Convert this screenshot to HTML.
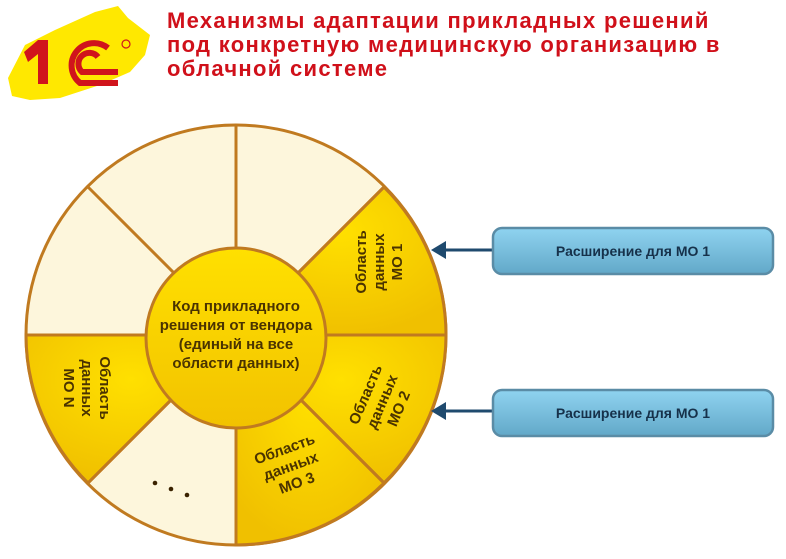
<!DOCTYPE html>
<html><head><meta charset="utf-8"><style>
html,body{margin:0;padding:0;background:#fff;width:786px;height:559px;overflow:hidden}
.t{position:absolute;left:167px;top:9px;font:bold 22px/24px "Liberation Sans",sans-serif;color:#d0101a;letter-spacing:1.3px}
</style></head><body>
<svg width="786" height="559" style="position:absolute;left:0;top:0" font-family="Liberation Sans, sans-serif">
<defs>
<radialGradient id="y" cx="50%" cy="30%" r="70%"><stop offset="0" stop-color="#ffe000"/><stop offset="1" stop-color="#f0c000"/></radialGradient>
<linearGradient id="b" x1="0" y1="0" x2="0" y2="1"><stop offset="0" stop-color="#8fd3f0"/><stop offset="1" stop-color="#62a8c8"/></linearGradient>
<linearGradient id="c" x1="0" y1="0" x2="0" y2="1"><stop offset="0" stop-color="#ffe000"/><stop offset="1" stop-color="#f2c200"/></linearGradient>
</defs>
<!-- logo -->
<path d="M8 78 L25 45 L55 30 L95 12 L118 6 L128 18 L150 35 L145 55 L130 72 L100 85 L60 98 L30 100 L12 96 Z" fill="#ffe800"/>
<g fill="#d0141c">
<path d="M24 52 L38 40 L48 40 L48 84 L38 84 L38 54 L28 62 Z"/>
</g>
<g fill="none" stroke="#d0141c" stroke-width="6">
<path d="M118 83 L80 83 A22 22 0 1 1 108 48"/>
<path d="M118 72 L82 72 A11 11 0 1 1 98 57"/>
</g>
<circle cx="126" cy="44" r="4" fill="none" stroke="#d0141c" stroke-width="1.2"/>
<!-- wheel -->
<g stroke="#c07a20" stroke-width="3">
<circle cx="236" cy="335" r="210" fill="#fdf6dc"/>
<path d="M236 335 L384 187 A210 210 0 0 1 446 335 Z" fill="url(#y)"/>
<path d="M236 335 L446 335 A210 210 0 0 1 384 483 Z" fill="url(#y)"/>
<path d="M236 335 L384 483 A210 210 0 0 1 236 545 Z" fill="url(#y)"/>
<path d="M236 335 L26 335 A210 210 0 0 0 88 483 Z" fill="url(#y)"/>
<line x1="236" y1="125" x2="236" y2="545"/>
<line x1="26" y1="335" x2="446" y2="335"/>
<line x1="88" y1="187" x2="384" y2="483"/>
<line x1="384" y1="187" x2="88" y2="483"/>
<circle cx="236" cy="338" r="90" fill="url(#c)"/>
</g>
<g font-weight="bold" font-size="15" fill="#4a3300" text-anchor="middle">
<text x="236" y="311">Код прикладного</text>
<text x="236" y="330">решения от вендора</text>
<text x="236" y="349">(единый на все</text>
<text x="236" y="368">области данных)</text>
<g transform="translate(380,262) rotate(-90)"><text y="-14">Область</text><text y="4">данных</text><text y="22">МО 1</text></g>
<g transform="translate(383,402) rotate(-67)"><text y="-14">Область</text><text y="4">данных</text><text y="22">МО 2</text></g>
<g transform="translate(291,467) rotate(-20)"><text y="-14">Область</text><text y="4">данных</text><text y="22">МО 3</text></g>
<g transform="translate(86,388) rotate(90)"><text y="-14">Область</text><text y="4">данных</text><text y="22">МО N</text></g>
</g>
<g fill="#3a2200"><circle cx="155" cy="483" r="2.3"/><circle cx="171" cy="489" r="2.3"/><circle cx="187" cy="495" r="2.3"/></g>
<!-- arrows -->
<g stroke="#1f4a6e" stroke-width="3"><line x1="492" y1="250" x2="440" y2="250"/><line x1="492" y1="411" x2="440" y2="411"/></g>
<g fill="#1f4a6e"><path d="M431 250 L446 241 L446 259 Z"/><path d="M431 411 L446 402 L446 420 Z"/></g>
<g stroke="#5a8ca6" stroke-width="2.5" fill="url(#b)">
<rect x="493" y="228" width="280" height="46" rx="9"/>
<rect x="493" y="390" width="280" height="46" rx="9"/>
</g>
<g font-weight="bold" font-size="14" fill="#16314a" text-anchor="middle">
<text x="633" y="256">Расширение для МО 1</text>
<text x="633" y="418">Расширение для МО 1</text>
</g>
</svg>
<div class="t">Механизмы адаптации прикладных решений<br>под конкретную медицинскую организацию в<br>облачной системе</div>
</body></html>
